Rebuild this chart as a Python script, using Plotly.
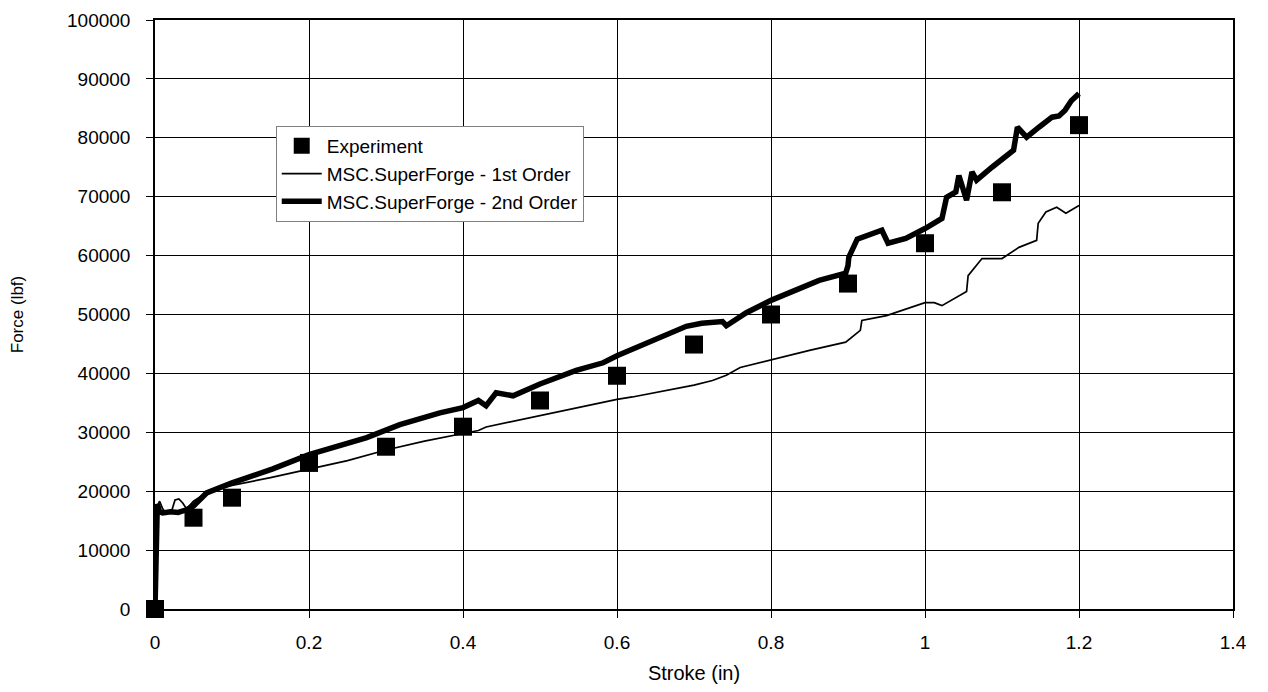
import plotly.graph_objects as go

# Experiment data
exp_stroke = [0, 0.05, 0.1, 0.2, 0.3, 0.4, 0.5, 0.6, 0.7, 0.8, 0.9, 1.0, 1.1, 1.2]
exp_force = [0, 15500, 18900, 24800, 27550, 30950, 35400, 39600, 44900, 50000, 55250, 62100, 70750, 82150]

# MSC.SuperForge - 1st Order (thin)
fo_stroke = [0, 0.001, 0.003, 0.006, 0.01, 0.015, 0.022, 0.026, 0.031, 0.036, 0.041, 0.05, 0.07,
             0.1, 0.15, 0.2, 0.25, 0.3, 0.35, 0.4, 0.42, 0.43, 0.5, 0.534, 0.6, 0.62, 0.7,
             0.724, 0.742, 0.76, 0.8, 0.85, 0.897, 0.916, 0.918, 0.95, 1.0, 1.012, 1.022,
             1.054, 1.056, 1.074, 1.1, 1.122, 1.145, 1.147, 1.157, 1.171, 1.183, 1.2]
fo_force = [0, 12000, 17500, 18300, 17000, 16100, 16800, 18500, 18700, 18000, 17000, 18300, 20000,
            21000, 22300, 23800, 25200, 27000, 28500, 29800, 30300, 30900, 32800, 33700, 35600, 36000, 38000,
            38800, 39700, 41000, 42300, 43900, 45300, 47300, 49000, 49800, 52000, 52000, 51500,
            53900, 56600, 59500, 59500, 61400, 62600, 65500, 67400, 68200, 67200, 68500]

# MSC.SuperForge - 2nd Order (thick)
so_stroke = [0, 0.001, 0.003, 0.006, 0.01, 0.02, 0.03, 0.04, 0.05, 0.067, 0.1, 0.153, 0.2, 0.275,
             0.318, 0.37, 0.4, 0.42, 0.43, 0.443, 0.465, 0.5, 0.547, 0.582, 0.6, 0.69, 0.71, 0.737,
             0.742, 0.768, 0.8, 0.8625, 0.897, 0.9, 0.901, 0.912, 0.944, 0.952, 0.975, 1.0, 1.022,
             1.028, 1.04, 1.044, 1.054, 1.061, 1.067, 1.087, 1.115, 1.12, 1.132, 1.148, 1.165,
             1.174, 1.182, 1.19, 1.2]
so_force = [0, 9000, 17800, 16500, 16300, 16500, 16400, 16800, 17500, 19700, 21400, 23800, 26200, 29100,
            31300, 33300, 34200, 35400, 34500, 36700, 36200, 38200, 40500, 41800, 43000, 48000, 48500, 48800,
            48100, 50300, 52400, 55800, 57000, 58300, 59700, 62800, 64300, 62100, 62900, 64600, 66300,
            69900, 70800, 73600, 69400, 74200, 72800, 75000, 77900, 81800, 80100, 81800, 83500,
            83700, 84700, 86300, 87500]

x_ticks = [0, 0.2, 0.4, 0.6, 0.8, 1, 1.2, 1.4]
x_tick_labels = ["0", "0.2", "0.4", "0.6", "0.8", "1", "1.2", "1.4"]
y_ticks = [0, 10000, 20000, 30000, 40000, 50000, 60000, 70000, 80000, 90000, 100000]
y_tick_labels = ["0", "10000", "20000", "30000", "40000", "50000", "60000", "70000", "80000", "90000", "100000"]

font_family = "Liberation Sans, Arial, sans-serif"

fig = go.Figure()
fig.add_trace(go.Scatter(
    x=exp_stroke, y=exp_force, mode="markers", name="Experiment",
    marker=dict(symbol="square", size=18, color="black", line=dict(width=0)),
    cliponaxis=False,
))
fig.add_trace(go.Scatter(
    x=fo_stroke, y=fo_force, mode="lines", name="MSC.SuperForge - 1st Order",
    line=dict(color="black", width=1.7),
))
fig.add_trace(go.Scatter(
    x=so_stroke, y=so_force, mode="lines", name="MSC.SuperForge - 2nd Order",
    line=dict(color="black", width=5.5),
))

fig.update_layout(
    width=1260, height=684,
    margin=dict(l=147, r=35, t=12, b=83, autoexpand=False),
    paper_bgcolor="white", plot_bgcolor="white",
    font=dict(family=font_family, size=19, color="black"),
    showlegend=True,
    legend=dict(
        x=0.112, y=0.82, xanchor="left", yanchor="top",
        bgcolor="white", bordercolor="#808080", borderwidth=1,
        font=dict(size=19, family=font_family),
        itemwidth=40, tracegroupgap=0,
    ),
)
fig.update_xaxes(
    range=[0, 1.4], tickvals=x_ticks, ticktext=x_tick_labels,
    showgrid=True, gridcolor="black", gridwidth=1,
    showline=True, linecolor="black", linewidth=1.5, mirror=True,
    ticks="outside", ticklen=7, tickcolor="black",
    zeroline=False, automargin=False, ticklabelstandoff=8,
    title=dict(text="Stroke (in)", font=dict(size=20), standoff=14),
    tickfont=dict(size=19),
)
fig.update_yaxes(
    range=[0, 100000], tickvals=y_ticks, ticktext=y_tick_labels,
    showgrid=True, gridcolor="black", gridwidth=1,
    showline=True, linecolor="black", linewidth=1.5, mirror=True,
    ticks="outside", ticklen=7, tickcolor="black",
    zeroline=False, automargin=False, ticklabelstandoff=12,
    title=dict(text="Force (lbf)", font=dict(size=17), standoff=40),
    tickfont=dict(size=19),
)

fig.write_html("out.html")
